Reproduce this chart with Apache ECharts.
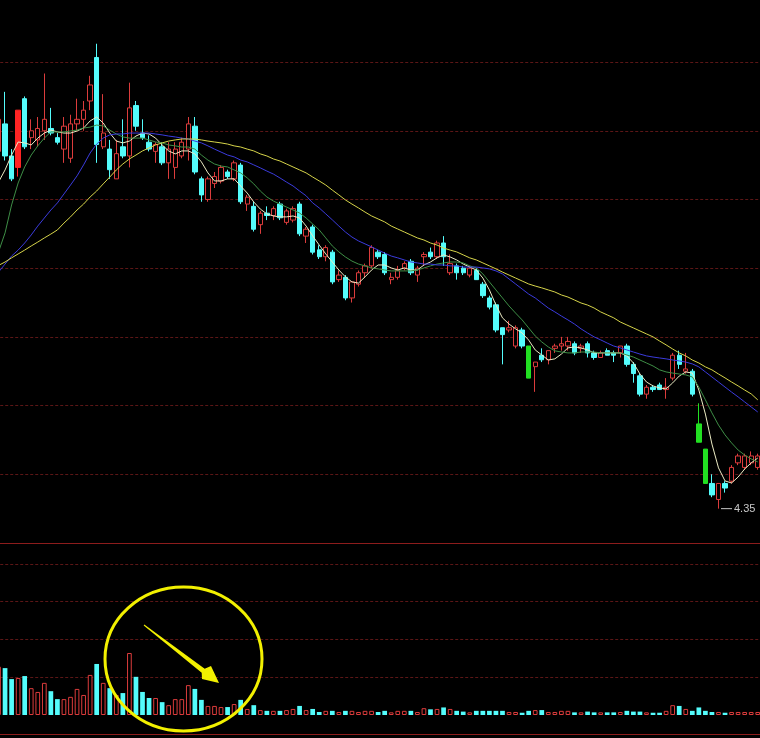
<!DOCTYPE html>
<html>
<head>
<meta charset="utf-8">
<title>K线</title>
<script src="https://cdn.jsdelivr.net/npm/echarts@6/dist/echarts.min.js"></script>
<style>
  html, body { margin: 0; padding: 0; background: #000; }
  #main { width: 760px; height: 738px; }
</style>
</head>
<body>
<div id="main"></div>
<script>
// 日K: [开盘, 收盘, 最低, 最高]
const candles = [
  [5.91, 6.05, 5.89, 6.06], [6.03, 5.89, 5.87, 6.17], [5.89, 5.79, 5.78, 5.92], [5.84, 6.09, 5.80, 6.09],
  [6.14, 5.93, 5.92, 6.15], [5.97, 6.00, 5.92, 6.05], [5.96, 6.01, 5.93, 6.06], [6.00, 6.05, 5.96, 6.25],
  [6.01, 5.99, 5.98, 6.10], [5.97, 5.95, 5.94, 5.99], [5.92, 6.02, 5.86, 6.06], [5.88, 6.03, 5.86, 6.07],
  [6.03, 6.05, 6.00, 6.14], [6.05, 6.09, 6.00, 6.13], [6.13, 6.20, 6.09, 6.24], [6.32, 5.94, 5.86, 6.38],
  [5.93, 5.99, 5.92, 6.16], [5.92, 5.83, 5.79, 5.96], [5.79, 5.90, 5.79, 5.96], [5.93, 5.89, 5.88, 6.05],
  [5.89, 6.10, 5.84, 6.21], [6.11, 6.02, 6.00, 6.13], [5.99, 5.97, 5.96, 6.05], [5.95, 5.92, 5.91, 5.98],
  [5.91, 5.94, 5.86, 5.95], [5.93, 5.86, 5.85, 5.95], [5.86, 5.92, 5.79, 5.95], [5.84, 5.92, 5.79, 5.95],
  [5.89, 5.95, 5.88, 5.97], [5.92, 6.03, 5.87, 6.06], [6.02, 5.82, 5.81, 6.06], [5.79, 5.72, 5.69, 5.80],
  [5.70, 5.79, 5.69, 5.80], [5.77, 5.80, 5.75, 5.82], [5.78, 5.84, 5.77, 5.85], [5.82, 5.80, 5.79, 5.83],
  [5.79, 5.86, 5.78, 5.87], [5.85, 5.69, 5.68, 5.86], [5.68, 5.71, 5.65, 5.72], [5.67, 5.57, 5.56, 5.69],
  [5.59, 5.64, 5.55, 5.65], [5.64, 5.63, 5.61, 5.67], [5.63, 5.66, 5.61, 5.67], [5.68, 5.62, 5.61, 5.69],
  [5.60, 5.65, 5.59, 5.66], [5.61, 5.66, 5.60, 5.67], [5.68, 5.55, 5.54, 5.69], [5.54, 5.57, 5.51, 5.58],
  [5.58, 5.47, 5.46, 5.59], [5.48, 5.45, 5.44, 5.50], [5.45, 5.49, 5.43, 5.50], [5.47, 5.34, 5.33, 5.48],
  [5.35, 5.37, 5.34, 5.39], [5.36, 5.27, 5.26, 5.37], [5.27, 5.34, 5.25, 5.34], [5.33, 5.38, 5.32, 5.39],
  [5.38, 5.41, 5.36, 5.42], [5.41, 5.49, 5.40, 5.50], [5.47, 5.45, 5.44, 5.48], [5.46, 5.38, 5.37, 5.47],
  [5.35, 5.36, 5.33, 5.38], [5.36, 5.39, 5.35, 5.41], [5.40, 5.42, 5.39, 5.43], [5.43, 5.38, 5.37, 5.44],
  [5.37, 5.40, 5.34, 5.41], [5.45, 5.46, 5.41, 5.47], [5.47, 5.45, 5.44, 5.49], [5.45, 5.51, 5.44, 5.52],
  [5.51, 5.45, 5.41, 5.54], [5.38, 5.42, 5.37, 5.46], [5.41, 5.38, 5.35, 5.42], [5.40, 5.38, 5.37, 5.41],
  [5.37, 5.40, 5.36, 5.41], [5.39, 5.35, 5.35, 5.40], [5.33, 5.28, 5.27, 5.34], [5.27, 5.23, 5.22, 5.28],
  [5.24, 5.13, 5.12, 5.25], [5.14, 5.11, 4.98, 5.14], [5.13, 5.14, 5.12, 5.17], [5.06, 5.14, 5.05, 5.15],
  [5.13, 5.06, 5.05, 5.14], [5.06, 4.92, 4.92, 5.06], [4.97, 4.99, 4.86, 4.99], [5.02, 5.00, 4.99, 5.05],
  [5.00, 5.04, 4.98, 5.04], [5.05, 5.06, 5.03, 5.07], [5.06, 5.07, 5.04, 5.10], [5.06, 5.08, 5.04, 5.10],
  [5.07, 5.03, 5.02, 5.08], [5.05, 5.06, 5.03, 5.07], [5.07, 5.03, 5.01, 5.08], [5.03, 5.01, 5.00, 5.04],
  [5.01, 5.03, 5.01, 5.04], [5.04, 5.02, 5.02, 5.05], [5.03, 5.02, 4.99, 5.04], [5.03, 5.06, 5.01, 5.06],
  [5.06, 4.98, 4.97, 5.07], [4.98, 4.94, 4.90, 4.99], [4.93, 4.85, 4.84, 4.94], [4.85, 4.88, 4.83, 4.89],
  [4.88, 4.87, 4.86, 4.89], [4.89, 4.87, 4.87, 4.90], [4.87, 4.88, 4.83, 4.92], [4.92, 5.02, 4.91, 5.03],
  [5.02, 4.98, 4.96, 5.04], [4.95, 4.96, 4.94, 5.03], [4.95, 4.85, 4.84, 4.96], [4.72, 4.64, 4.64, 4.81],
  [4.61, 4.46, 4.46, 4.61], [4.46, 4.41, 4.40, 4.50], [4.39, 4.46, 4.35, 4.46], [4.46, 4.44, 4.42, 4.47],
  [4.47, 4.53, 4.46, 4.54], [4.55, 4.58, 4.54, 4.59], [4.53, 4.58, 4.52, 4.59], [4.55, 4.58, 4.54, 4.60],
  [4.53, 4.58, 4.52, 4.59]
]

// 成交量(万手)
const volumes = [
  12.8, 12.4, 9.5, 9.8, 10.3, 7.1, 6.1, 8.5, 6.3, 4.2,
  4.2, 4.8, 6.9, 5.3, 10.6, 13.5, 8.5, 7.1, 5.3, 5.8,
  16.4, 10.1, 6.1, 4.5, 4.5, 3.4, 2.6, 4.2, 4.2, 7.9,
  6.9, 4.0, 2.4, 2.4, 2.1, 2.1, 2.9, 4.0, 1.6, 2.6,
  1.3, 1.1, 1.1, 1.1, 1.3, 1.6, 2.4, 1.3, 1.6, 0.8,
  1.1, 1.1, 0.8, 1.1, 1.1, 0.8, 1.1, 1.1, 0.8, 1.1,
  0.7, 1.1, 1.1, 1.1, 0.8, 1.8, 1.5, 1.6, 2.0, 1.6,
  1.1, 0.9, 0.7, 1.1, 1.1, 1.1, 1.1, 1.1, 0.8, 0.8,
  0.6, 1.1, 1.3, 1.3, 0.8, 0.8, 1.1, 1.1, 0.7, 0.7,
  0.9, 0.7, 0.7, 0.7, 0.7, 0.8, 1.1, 0.9, 0.9, 0.7,
  0.6, 0.6, 1.1, 2.6, 2.4, 1.6, 1.1, 2.0, 1.1, 0.8,
  0.8, 0.6, 0.8, 0.8, 0.8, 0.8, 0.8
]

// 均线
const ma5 = [
  5.776, 5.829, 5.894, 5.951, 5.947, 5.938, 5.968, 5.990, 6.003, 5.995,
  5.990, 5.990, 5.999, 6.012, 6.043, 6.060, 6.034, 5.990, 5.955, 5.947,
  5.955, 5.977, 5.990, 5.986, 5.968, 5.938, 5.912, 5.899, 5.912, 5.912,
  5.899, 5.864, 5.816, 5.781, 5.781, 5.790, 5.790, 5.759, 5.728, 5.689,
  5.658, 5.637, 5.628, 5.624, 5.624, 5.628, 5.619, 5.584, 5.541, 5.501,
  5.462, 5.427, 5.392, 5.362, 5.340, 5.335, 5.362, 5.392, 5.414, 5.414,
  5.401, 5.392, 5.401, 5.392, 5.392, 5.414, 5.427, 5.445, 5.458, 5.449,
  5.436, 5.418, 5.405, 5.392, 5.357, 5.305, 5.239, 5.183, 5.156, 5.135,
  5.117, 5.086, 5.043, 5.021, 4.999, 5.004, 5.025, 5.052, 5.056, 5.052,
  5.043, 5.030, 5.030, 5.030, 5.030, 5.030, 5.017, 4.986, 4.938, 4.903,
  4.886, 4.877, 4.873, 4.899, 4.929, 4.947, 4.942, 4.868, 4.763, 4.632,
  4.528, 4.471, 4.462, 4.488, 4.523, 4.550, 4.571
]
const ma10 = [
  5.471, 5.554, 5.676, 5.772, 5.842, 5.894, 5.934, 5.968, 5.995, 5.995,
  5.995, 5.999, 6.003, 6.012, 6.016, 6.025, 6.021, 6.003, 5.986, 5.973,
  5.968, 5.968, 5.968, 5.960, 5.951, 5.947, 5.938, 5.934, 5.929, 5.929,
  5.920, 5.894, 5.872, 5.855, 5.846, 5.842, 5.829, 5.816, 5.794, 5.768,
  5.737, 5.711, 5.693, 5.680, 5.667, 5.654, 5.641, 5.619, 5.593, 5.567,
  5.532, 5.497, 5.471, 5.449, 5.431, 5.418, 5.410, 5.401, 5.397, 5.392,
  5.388, 5.388, 5.388, 5.388, 5.392, 5.401, 5.410, 5.418, 5.423, 5.427,
  5.427, 5.423, 5.410, 5.401, 5.375, 5.340, 5.305, 5.270, 5.235, 5.204,
  5.174, 5.139, 5.104, 5.078, 5.056, 5.039, 5.034, 5.030, 5.030, 5.034,
  5.034, 5.034, 5.030, 5.030, 5.030, 5.030, 5.021, 5.012, 4.999, 4.986,
  4.973, 4.956, 4.947, 4.942, 4.938, 4.934, 4.925, 4.881, 4.825, 4.768,
  4.715, 4.672, 4.637, 4.606, 4.584, 4.567, 4.554
]
const ma20 = [
  5.383, 5.418, 5.453, 5.479, 5.510, 5.545, 5.584, 5.619, 5.654, 5.685,
  5.724, 5.763, 5.803, 5.851, 5.903, 5.942, 5.968, 5.982, 5.986, 5.986,
  5.990, 5.990, 5.990, 5.990, 5.986, 5.982, 5.977, 5.973, 5.968, 5.964,
  5.955, 5.947, 5.934, 5.920, 5.907, 5.894, 5.886, 5.872, 5.864, 5.851,
  5.838, 5.824, 5.811, 5.794, 5.776, 5.759, 5.737, 5.716, 5.685, 5.663,
  5.637, 5.611, 5.584, 5.558, 5.536, 5.519, 5.506, 5.493, 5.479, 5.466,
  5.453, 5.445, 5.436, 5.427, 5.423, 5.418, 5.418, 5.414, 5.414, 5.410,
  5.410, 5.405, 5.405, 5.405, 5.401, 5.397, 5.388, 5.375, 5.353, 5.331,
  5.309, 5.287, 5.270, 5.248, 5.226, 5.209, 5.191, 5.174, 5.156, 5.135,
  5.117, 5.100, 5.087, 5.073, 5.060, 5.052, 5.043, 5.034, 5.025, 5.017,
  5.012, 5.008, 5.004, 4.999, 4.995, 4.990, 4.982, 4.969, 4.947, 4.925,
  4.903, 4.881, 4.859, 4.838, 4.816, 4.794, 4.772
]
const ma30 = [
  5.412, 5.427, 5.445, 5.462, 5.479, 5.497, 5.514, 5.532, 5.549, 5.567,
  5.597, 5.624, 5.654, 5.680, 5.711, 5.737, 5.768, 5.798, 5.829, 5.855,
  5.877, 5.894, 5.912, 5.925, 5.938, 5.947, 5.955, 5.960, 5.964, 5.964,
  5.964, 5.960, 5.955, 5.951, 5.947, 5.942, 5.934, 5.929, 5.920, 5.912,
  5.899, 5.890, 5.877, 5.868, 5.855, 5.842, 5.829, 5.816, 5.798, 5.781,
  5.763, 5.741, 5.720, 5.698, 5.680, 5.663, 5.645, 5.628, 5.615, 5.602,
  5.584, 5.571, 5.558, 5.545, 5.532, 5.523, 5.510, 5.501, 5.488, 5.479,
  5.471, 5.458, 5.445, 5.436, 5.423, 5.410, 5.397, 5.383, 5.370, 5.357,
  5.344, 5.331, 5.322, 5.314, 5.305, 5.296, 5.283, 5.274, 5.261, 5.248,
  5.239, 5.226, 5.209, 5.196, 5.183, 5.165, 5.152, 5.139, 5.126, 5.113,
  5.100, 5.082, 5.065, 5.047, 5.030, 5.017, 4.999, 4.986, 4.969, 4.956,
  4.938, 4.921, 4.903, 4.886, 4.868, 4.851, 4.825
]

// 涨停(红实体) / 跌停(绿实体) 的K线序号
const limitUp = [3]
const limitDown = [81, 107, 108]

// 价格轴与成交量轴刻度
const priceAxis = { min: 4.2, max: 6.571, interval: 0.3 }
const volAxis = { min: 0, max: 45.5, interval: 10 }

const RED = '#dc3c3c'
const CYAN = '#54fcfc'
const GRID_RED = '#8c1c1c'
const DASH_RED = '#5c1616'

const categories = candles.map((c, i) => String(i + 1))

const candleData = candles.map((c, i) => {
  if (limitUp.includes(i)) {
    return { value: c, itemStyle: { color: '#ff2424', borderColor: '#ff2424' } }
  }
  if (limitDown.includes(i)) {
    return { value: c, itemStyle: { color0: '#22e022', borderColor0: '#22e022' } }
  }
  return c
})

const volData = volumes.map((v, i) => {
  const up = candles[i][1] >= candles[i][0]
  return {
    value: v,
    itemStyle: up
      ? { color: '#000', borderColor: RED, borderWidth: 1 }
      : { color: CYAN }
  }
})

function maSeries (name, data, color) {
  return {
    name: name,
    type: 'line',
    xAxisIndex: 0,
    yAxisIndex: 0,
    data: data,
    symbol: 'none',
    smooth: false,
    z: 5,
    lineStyle: { width: 1, color: color },
    silent: true
  }
}

const hiddenAxis = {
  axisTick: { show: false },
  axisLabel: { show: false }
}

const chart = echarts.init(document.getElementById('main'))
chart.setOption({
  backgroundColor: '#000',
  animation: false,
  grid: [
    { left: -4.77, width: 765.8, top: 0, height: 543, outerBoundsMode: 'none', containLabel: false },
    { left: -4.77, width: 765.8, top: 543, height: 172, outerBoundsMode: 'none', containLabel: false }
  ],
  xAxis: [
    {
      type: 'category',
      gridIndex: 0,
      data: categories,
      boundaryGap: true,
      axisLine: { show: true, onZero: false, lineStyle: { color: GRID_RED, width: 1 } },
      splitLine: { show: false },
      ...hiddenAxis
    },
    {
      type: 'category',
      gridIndex: 1,
      data: categories,
      boundaryGap: true,
      offset: 19,
      axisLine: { show: true, onZero: false, lineStyle: { color: GRID_RED, width: 1 } },
      splitLine: { show: false },
      ...hiddenAxis
    }
  ],
  yAxis: [
    {
      type: 'value',
      gridIndex: 0,
      min: priceAxis.min,
      max: priceAxis.max,
      interval: priceAxis.interval,
      axisLine: { show: false },
      splitLine: {
        show: true,
        showMinLine: false,
        showMaxLine: false,
        lineStyle: { color: DASH_RED, width: 1, type: [3, 2] }
      },
      ...hiddenAxis
    },
    {
      type: 'value',
      gridIndex: 1,
      min: volAxis.min,
      max: volAxis.max,
      interval: volAxis.interval,
      axisLine: { show: false },
      splitLine: {
        show: true,
        showMinLine: false,
        showMaxLine: false,
        lineStyle: { color: DASH_RED, width: 1, type: [3, 2] }
      },
      ...hiddenAxis
    }
  ],
  series: [
    {
      name: 'K线',
      type: 'candlestick',
      xAxisIndex: 0,
      yAxisIndex: 0,
      data: candleData,
      barWidth: '74%',
      itemStyle: {
        color: '#000',
        color0: CYAN,
        borderColor: RED,
        borderColor0: CYAN,
        borderWidth: 1
      },
      markPoint: {
        symbol: 'rect',
        symbolSize: [11, 1],
        symbolOffset: [8, 0],
        itemStyle: { color: '#c8c8c8' },
        label: {
          show: true,
          position: 'right',
          distance: 2,
          color: '#c8c8c8',
          fontSize: 11,
          fontFamily: 'Liberation Sans',
          formatter: function (p) {
            return Number(p.value).toFixed(2)
          }
        },
        data: [{ type: 'min', valueDim: 'lowest' }]
      }
    },
    maSeries('MA5', ma5, '#ecebc4'),
    maSeries('MA10', ma10, '#3e8e46'),
    maSeries('MA20', ma20, '#3b3bdc'),
    maSeries('MA30', ma30, '#d6d44a'),
    {
      name: '成交量',
      type: 'bar',
      xAxisIndex: 1,
      yAxisIndex: 1,
      data: volData,
      barWidth: '72%'
    }
  ],
  // 黄色圆圈和箭头标注
  graphic: [
    {
      type: 'ellipse',
      shape: { cx: 183.5, cy: 659, rx: 78.5, ry: 72 },
      style: { fill: 'none', stroke: '#f2f000', lineWidth: 3 },
      z: 100
    },
    {
      type: 'polygon',
      shape: {
        points: [
          [143.7, 625.4], [201.7, 672.8], [202, 679], [219, 683],
          [211, 666], [204.7, 668.8], [144.3, 624.6]
        ]
      },
      style: { fill: '#f2f000' },
      z: 100
    }
  ]
})
</script>
</body>
</html>
